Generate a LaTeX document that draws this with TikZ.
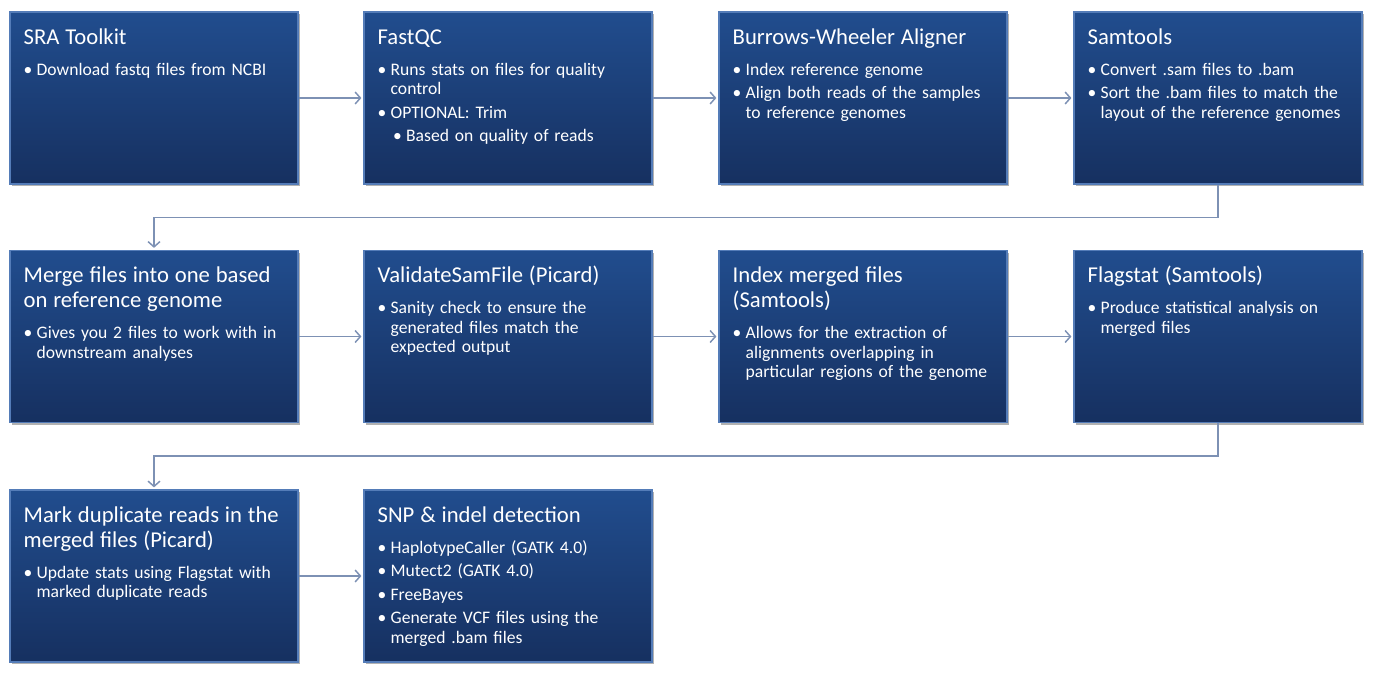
\documentclass[tikz,border=0pt]{standalone}
\usepackage{fontspec}
\setmainfont{Carlito}
\usetikzlibrary{arrows.meta,shadows,calc}
\definecolor{boxtop}{RGB}{33,77,142}
\definecolor{boxbot}{RGB}{22,48,96}
\definecolor{boxedge}{RGB}{84,124,184}
\definecolor{conn}{RGB}{125,145,180}
\newcommand\nl{\unskip\break}
\newcommand\ttl[1]{{\fontsize{17pt}{18.75pt}\selectfont #1\par}\vspace{5.65pt}}
\newcommand\bl[1]{{\leftskip=0pt\hangindent=9.75pt\hangafter=1\noindent\makebox[9.75pt][l]{•}#1\par}}
\newcommand\sbl[1]{{\leftskip=11.6pt\hangindent=9.75pt\hangafter=1\noindent\makebox[9.75pt][l]{•}#1\par}}
\tikzset{
  stagebox/.style={rectangle, minimum width=216pt, minimum height=129pt, inner sep=0pt,
    top color=boxtop, bottom color=boxbot, draw=boxedge, line width=0.9pt,
    drop shadow={shadow xshift=1.2pt, shadow yshift=-1.5pt, opacity=0.3, fill=black}},
  txt/.style={anchor=base west, inner sep=0pt, text width=206pt, align=left, text=white,
    font=\fontsize{13.2pt}{14.6pt}\selectfont,
    execute at begin node={\setlength{\parskip}{3pt}}},
  conn/.style={draw=conn, line width=1.1pt, -{Straight Barb[length=4pt,width=9pt]}, shorten >=1.5pt}
}
\begin{document}
\begin{tikzpicture}[x=0.75pt,y=-0.75pt]
\useasboundingbox (0,0) rectangle (1376,678);
% boxes
\node[stagebox] (b1) at (154,98) {};
\node[stagebox] (b2) at (508,98) {};
\node[stagebox] (b3) at (863,98) {};
\node[stagebox] (b4) at (1218,98) {};
\node[stagebox] (b5) at (154,336.5) {};
\node[stagebox] (b6) at (508,336.5) {};
\node[stagebox] (b7) at (863,336.5) {};
\node[stagebox] (b8) at (1218,336.5) {};
\node[stagebox] (b9) at (154,576) {};
\node[stagebox] (b10) at (508,576) {};
% texts
\node[txt] (t1) at ([shift={(14,33)}]b1.north west) {\ttl{SRA Toolkit}\bl{Download fastq files from NCBI}};
\node[txt] (t2) at ([shift={(14,33)}]b2.north west) {\ttl{FastQC}\bl{Runs stats on files for quality\nl control}\bl{OPTIONAL: Trim}\sbl{Based on quality of reads}};
\node[txt] (t3) at ([shift={(14,33)}]b3.north west) {\ttl{Burrows-Wheeler Aligner}\bl{Index reference genome}\bl{Align both reads of the samples\nl to reference genomes}};
\node[txt] (t4) at ([shift={(14,33)}]b4.north west) {\ttl{Samtools}\bl{Convert .sam files to .bam}\bl{Sort the .bam files to match the\nl layout of the reference genomes}};
\node[txt] (t5) at ([shift={(14,33)}]b5.north west) {\ttl{Merge files into one based\nl on reference genome}\bl{Gives you 2 files to work with in\nl downstream analyses}};
\node[txt] (t6) at ([shift={(14,33)}]b6.north west) {\ttl{ValidateSamFile (Picard)}\bl{Sanity check to ensure the\nl generated files match the\nl expected output}};
\node[txt] (t7) at ([shift={(14,33)}]b7.north west) {\ttl{Index merged files\nl (Samtools)}\bl{Allows for the extraction of\nl alignments overlapping in\nl particular regions of the genome}};
\node[txt] (t8) at ([shift={(14,33)}]b8.north west) {\ttl{Flagstat (Samtools)}\bl{Produce statistical analysis on\nl merged files}};
\node[txt] (t9) at ([shift={(14,33)}]b9.north west) {\ttl{Mark duplicate reads in the\nl merged files (Picard)}\bl{Update stats using Flagstat with\nl marked duplicate reads}};
\node[txt] (t10) at ([shift={(14,33)}]b10.north west) {\ttl{SNP \& indel detection}\bl{HaplotypeCaller (GATK 4.0)}\bl{Mutect2 (GATK 4.0)}\bl{FreeBayes}\bl{Generate VCF files using the\nl merged .bam files}};
% connectors
\draw[conn] (b1.east) -- (b2.west);
\draw[conn] (b2.east) -- (b3.west);
\draw[conn] (b3.east) -- (b4.west);
\draw[conn] (b4.south) -- ++(0,33) -| (b5.north);
\draw[conn] (b5.east) -- (b6.west);
\draw[conn] (b6.east) -- (b7.west);
\draw[conn] (b7.east) -- (b8.west);
\draw[conn] (b8.south) -- ++(0,33) -| (b9.north);
\draw[conn] (b9.east) -- (b10.west);
\end{tikzpicture}
\end{document}
